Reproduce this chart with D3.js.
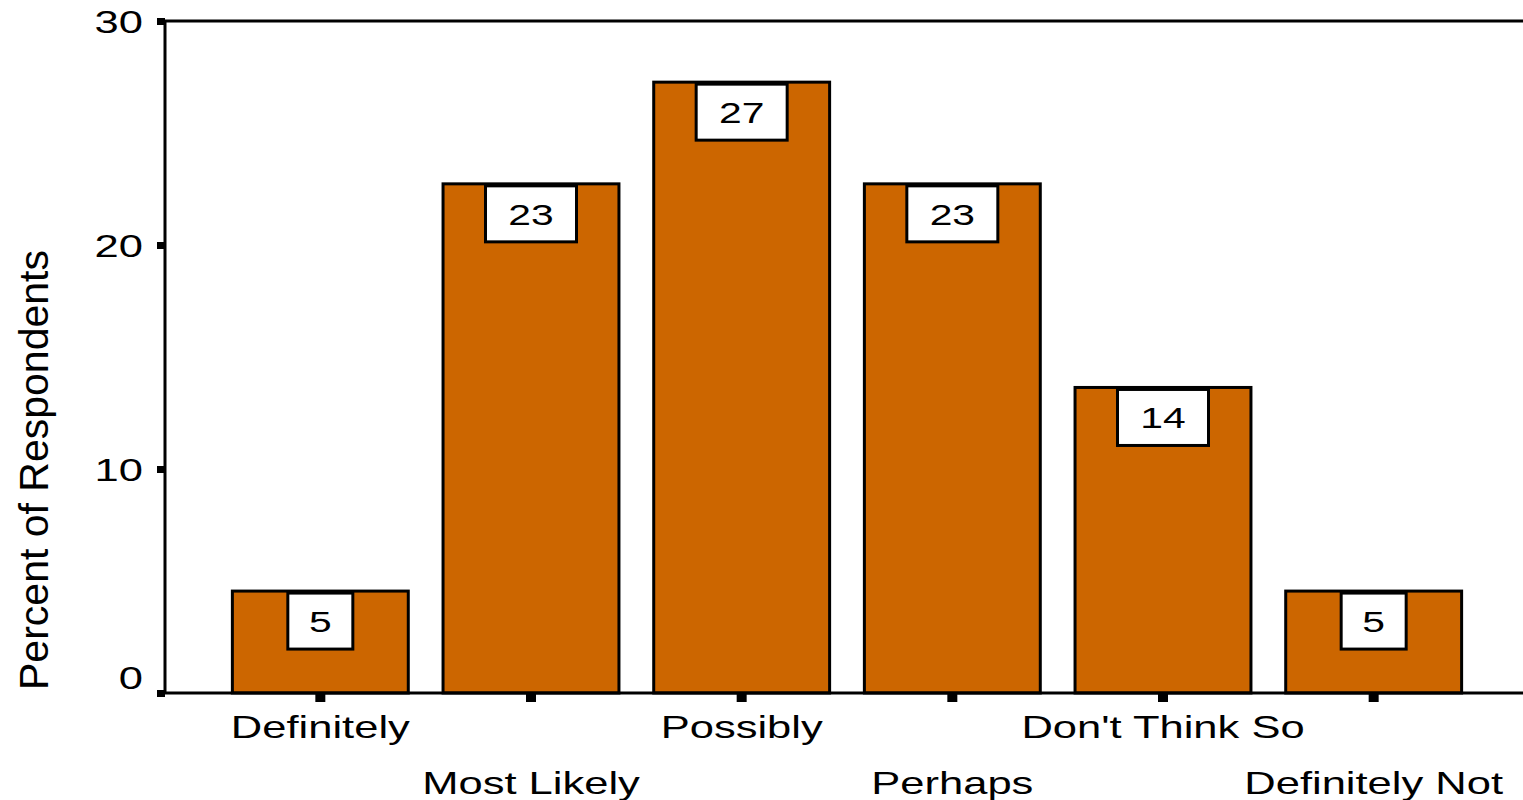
<!DOCTYPE html>
<html>
<head>
<meta charset="utf-8">
<script src="https://cdn.jsdelivr.net/npm/d3@7"></script>
<style>
  body { margin: 0; background: #fff; }
  svg { display: block; }
  text { font-family: "Liberation Sans", Arial, sans-serif; fill: #000; }
</style>
</head>
<body>
<div id="chart"></div>
<script>
var categories = ["Definitely", "Most Likely", "Possibly", "Perhaps", "Don't Think So", "Definitely Not"];
var percents = [4.55, 22.73, 27.27, 22.73, 13.64, 4.55];
var yTicks = [0, 10, 20, 30];

(function () {
  var width = 1523, height = 800;
  var plotLeft = 165, plotTop = 21, plotBottom = 693;
  var stretch = 1.36;   // the source text is drawn wide

  var svg = d3.select("#chart").append("svg")
      .attr("width", width)
      .attr("height", height);

  var x = d3.scaleBand()
      .domain(categories)
      .range([215, 1479])
      .paddingInner(0.165)
      .paddingOuter(0.0825);

  var y = d3.scaleLinear()
      .domain([0, 30])
      .range([plotBottom, plotTop]);

  // top frame line runs to the edge
  svg.append("line")
      .attr("x1", plotLeft).attr("x2", width)
      .attr("y1", plotTop).attr("y2", plotTop)
      .attr("stroke", "#000").attr("stroke-width", 3);

  // bars
  svg.append("g").selectAll("rect")
      .data(percents)
      .join("rect")
      .attr("x", function(d, i) { return x(categories[i]); })
      .attr("y", function(d) { return y(d); })
      .attr("width", x.bandwidth())
      .attr("height", function(d) { return y(0) - y(d); })
      .attr("fill", "#cc6600")
      .attr("stroke", "#000")
      .attr("stroke-width", 3);

  // value boxes
  var fmt = d3.format(".0f");
  var boxes = svg.append("g").selectAll("g")
      .data(percents)
      .join("g")
      .attr("transform", function(d, i) {
        return "translate(" + (x(categories[i]) + x.bandwidth() / 2) + "," + (y(d) + 2) + ")";
      });

  boxes.each(function(d) {
    var g = d3.select(this);
    var label = fmt(d);
    var w = 39 + 26 * label.length;
    g.append("rect")
        .attr("x", -w / 2).attr("y", 0)
        .attr("width", w).attr("height", 56)
        .attr("fill", "#fff")
        .attr("stroke", "#000")
        .attr("stroke-width", 3);
    g.append("text")
        .attr("transform", "translate(0,39) scale(" + stretch + ",1)")
        .attr("text-anchor", "middle")
        .style("font-size", "30px")
        .text(label);
  });

  // y axis
  var yAxis = svg.append("g")
      .attr("transform", "translate(" + plotLeft + ",0)")
      .call(d3.axisLeft(y).tickValues(yTicks).tickSize(8).tickFormat(""));
  yAxis.select(".domain").attr("stroke", "#000").attr("stroke-width", 3)
      .attr("d", "M0," + (plotTop - 1) + "V" + plotBottom);
  yAxis.selectAll(".tick line").attr("stroke", "#000").attr("stroke-width", 7);

  svg.append("g").selectAll("text")
      .data(yTicks)
      .join("text")
      .attr("transform", function(d) {
        var yy = y(d) + 12 - (d === 0 ? 16 : 0);
        return "translate(143," + yy + ") scale(" + stretch + ",1)";
      })
      .attr("text-anchor", "end")
      .style("font-size", "32px")
      .text(function(d) { return d; });

  // x axis
  var xAxis = svg.append("g")
      .attr("transform", "translate(0," + plotBottom + ")")
      .call(d3.axisBottom(x).tickSize(9).tickFormat(""));
  xAxis.select(".domain").attr("stroke", "#000").attr("stroke-width", 3)
      .attr("d", "M" + plotLeft + ",0H" + width);
  xAxis.selectAll(".tick line").attr("stroke", "#000").attr("stroke-width", 10);

  svg.append("g").selectAll("text")
      .data(categories)
      .join("text")
      .attr("transform", function(d, i) {
        var yy = i % 2 === 0 ? 738 : 794;
        return "translate(" + (x(d) + x.bandwidth() / 2) + "," + yy + ") scale(" + stretch + ",1)";
      })
      .attr("text-anchor", "middle")
      .style("font-size", "32px")
      .text(function(d) { return d; });

  // y title
  svg.append("text")
      .attr("transform", "translate(48,470) rotate(-90)")
      .attr("text-anchor", "middle")
      .attr("textLength", 440)
      .attr("lengthAdjust", "spacingAndGlyphs")
      .style("font-size", "41px")
      .text("Percent of Respondents");
})();
</script>
</body>
</html>
